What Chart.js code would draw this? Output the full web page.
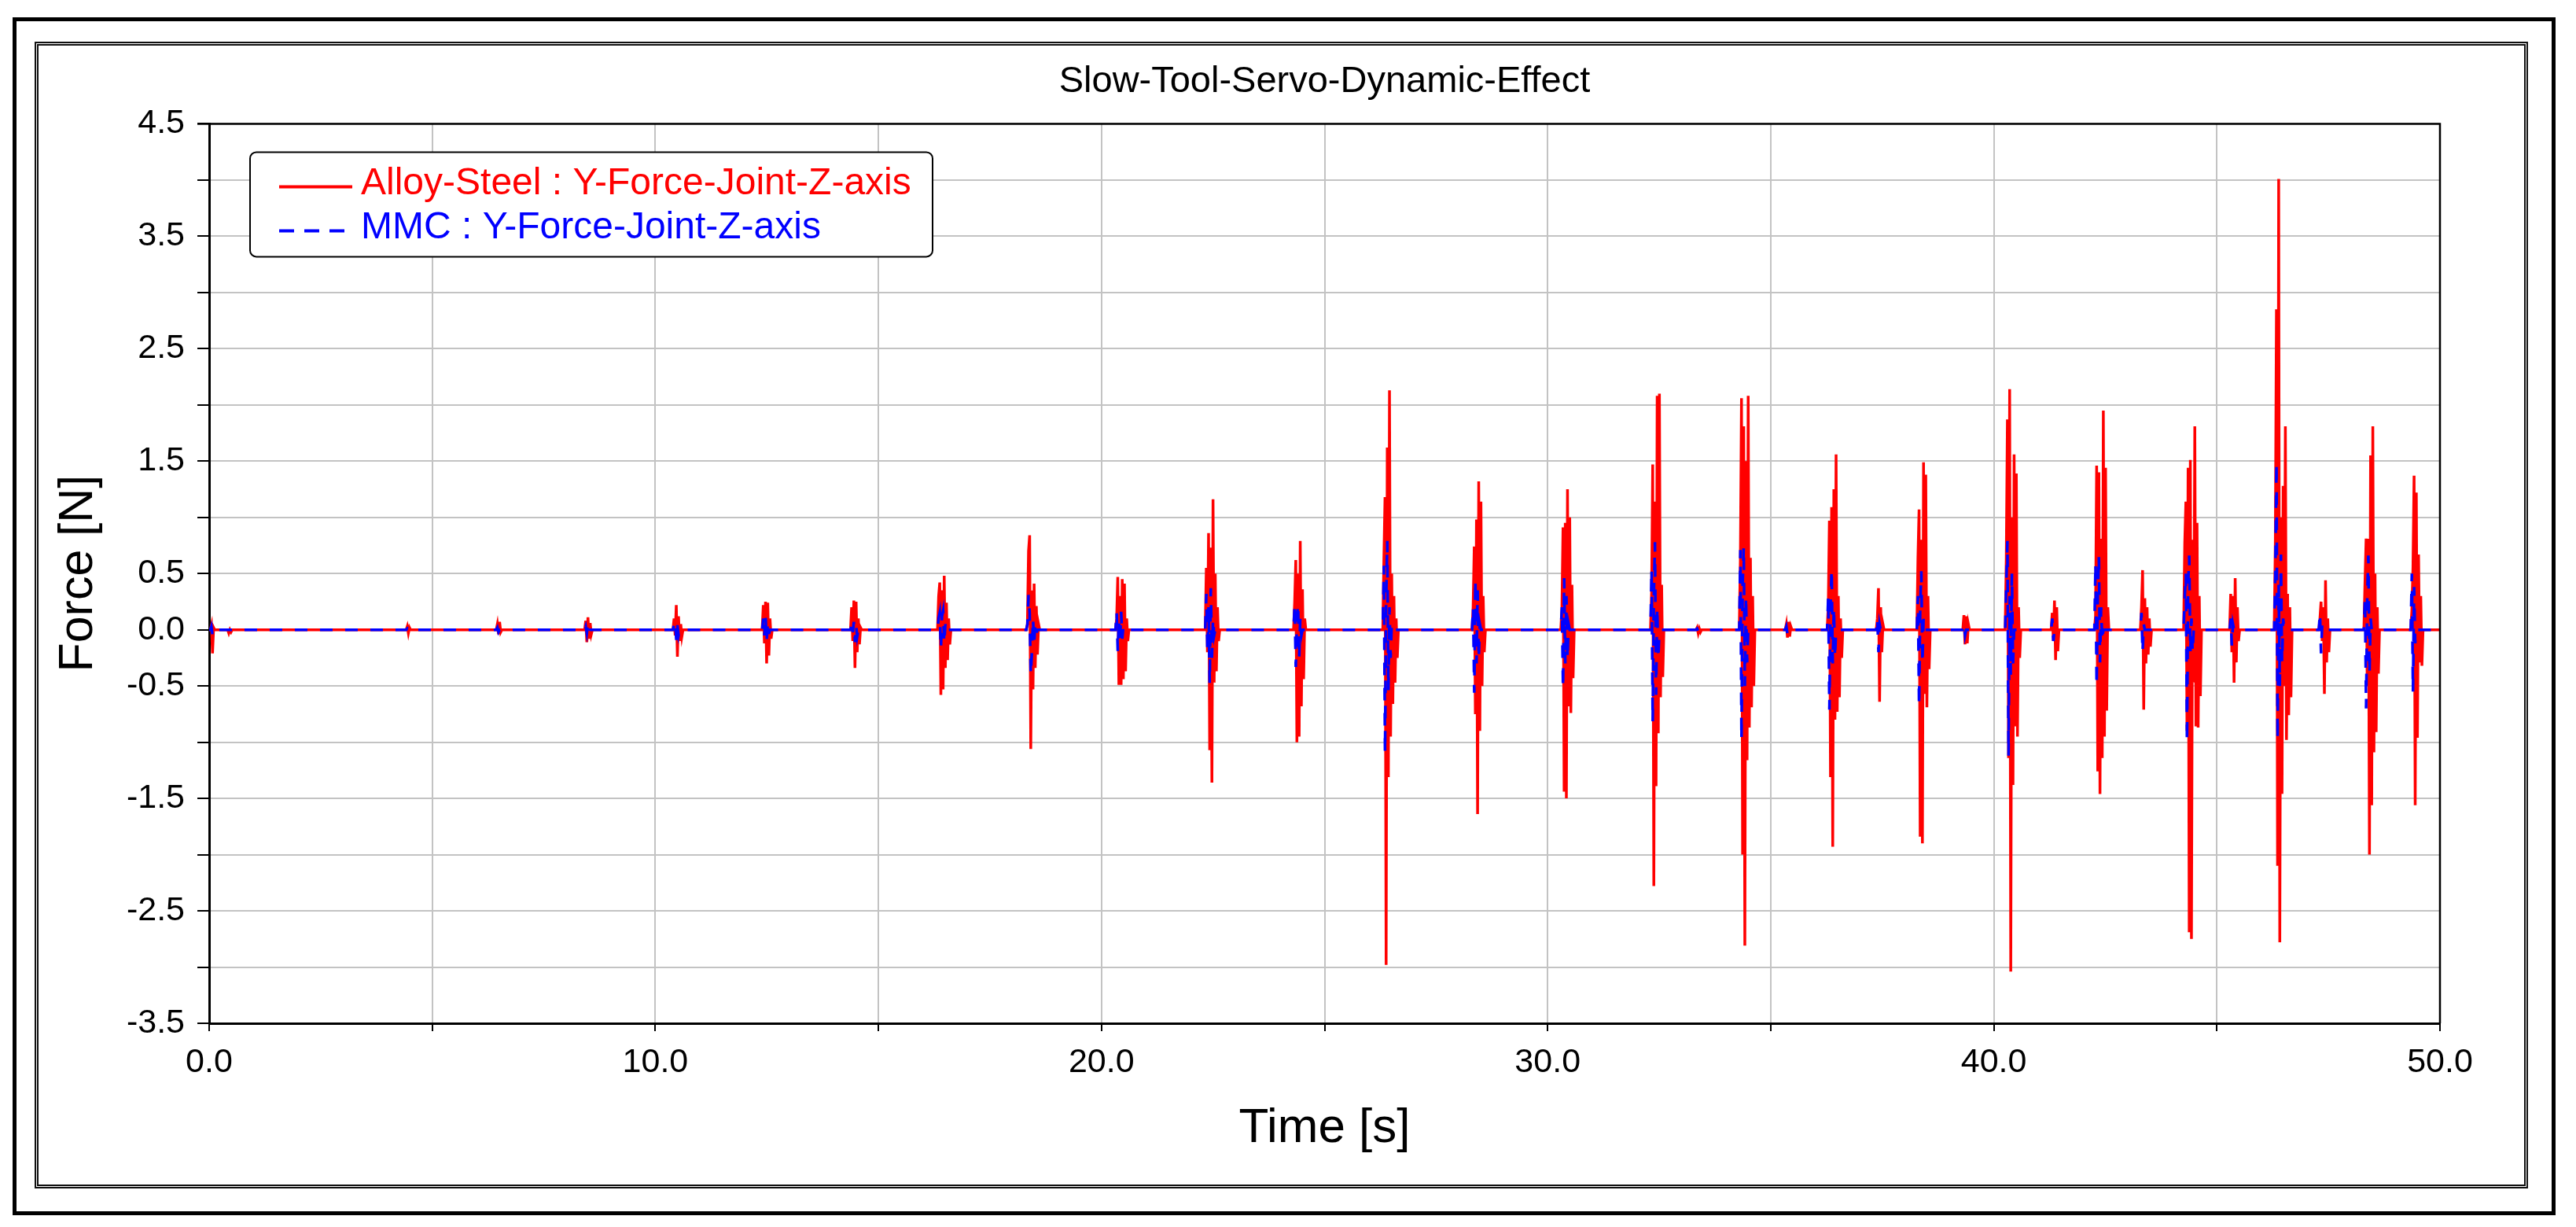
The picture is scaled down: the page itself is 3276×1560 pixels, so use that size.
<!DOCTYPE html>
<html lang="en">
<head>
    <meta charset="UTF-8">
    <title>Slow-Tool-Servo-Dynamic-Effect</title>
    <script src="https://cdn.jsdelivr.net/npm/chart.js@4.4.0/dist/chart.umd.min.js"></script>
    <style>
        html, body {
            margin: 0;
            padding: 0;
            background: #fff;
        }

        .page {
            position: relative;
            width: 3276px;
            height: 1560px;
            overflow: hidden;
        }

        /* outer thick frame and inner double frame */
        .outer-frame {
            position: absolute;
            left: 16px;
            top: 22px;
            width: 3224px;
            height: 1513px;
            border: 5px solid #000;
        }

        .inner-frame {
            position: absolute;
            left: 44px;
            top: 53px;
            width: 3161px;
            height: 1448px;
            border: 5px double #111;
        }

        #chart {
            position: absolute;
            left: 0;
            top: 0;
        }
    </style>
</head>
<body>
<div class="page">
    <div class="outer-frame"></div>
    <div class="inner-frame"></div>
    <canvas id="chart" width="3276" height="1560"></canvas>
</div>

<script>
    // time of the first sample of each burst [s]
    const burstStart = [0.05, 0.44, 4.44, 6.46, 8.44, 10.42, 12.42, 14.40, 16.35, 18.34,
        20.34, 22.35, 24.33, 26.33, 28.33, 30.32, 32.33, 33.35, 34.32, 35.35,
        36.29, 37.39, 38.30, 39.33, 40.28, 41.31, 42.28, 43.31, 44.28, 45.31,
        46.31, 47.31, 48.32, 49.37];

    // spacing of the samples inside a burst [s]
    const sampleStep = 0.025;

    // Alloy-Steel force samples per burst [N]
    const steelForce = [
        [0.04, -0.21, 0.02, 0],
        [-0.03, 0.0, -0.02, 0],
        [0.03, -0.03, 0.02, 0],
        [0.05, -0.04, 0.07, -0.02, 0],
        [0.08, -0.11, 0.11, -0.08, 0.06, -0.04, 0],
        [0.10, -0.05, 0.22, -0.24, 0.12, -0.10, 0.05, -0.06, 0],
        [0.22, -0.12, 0.25, -0.30, 0.24, -0.23, 0.10, -0.08, 0],
        [0.20, -0.10, 0.26, -0.34, 0.25, -0.20, 0.10, -0.13, 0.02, 0],
        [0.30, 0.42, -0.58, 0.35, -0.53, 0.48, -0.34, 0.24, -0.27, 0.10, -0.13, 0],
        [0.05, 0.70, 0.84, -1.06, 0.35, -0.53, 0.41, -0.34, 0.21, -0.22, 0.05, 0],
        [0.10, 0.47, -0.49, 0.30, -0.49, 0.45, -0.44, 0.41, -0.37, 0.10, -0.10, 0],
        [0.55, -0.20, 0.86, -1.07, 0.73, -1.36, 1.16, -0.47, 0.50, -0.37, 0.20, -0.10, 0],
        [0.25, 0.62, -1.00, 0.50, -0.95, 0.79, -0.68, 0.36, -0.44, 0.10, 0],
        [0.64, 1.18, -2.98, 1.62, -1.31, 2.13, -0.95, 0.50, -0.66, 0.30, -0.47, 0.10, -0.25, 0],
        [0.20, 0.74, -0.75, 0.98, -1.64, 1.32, -0.90, 1.14, -0.50, 0.30, -0.20, 0],
        [0.19, 0.91, -1.44, 0.95, -1.50, 1.25, -0.68, 1.00, -0.74, 0.40, -0.43, 0],
        [0.33, 1.47, -2.28, 1.14, -1.39, 2.08, -0.92, 2.10, -0.60, 0.40, -0.42, 0],
        [0.02, -0.03, 0.01, -0.02, 0],
        [0.64, 2.06, -2.00, 1.81, -2.81, 1.50, -1.16, 2.08, -0.87, 0.64, -0.69, 0.30, -0.50, 0],
        [0.05, -0.07, 0.07, -0.06, 0.03, 0],
        [0.21, 0.97, -1.31, 1.09, -1.93, 1.25, -0.80, 1.56, -0.73, 0.30, -0.60, 0.10, -0.25, 0],
        [0.10, 0.37, -0.64, 0.20, -0.20, 0.05, 0],
        [0.64, 1.07, -1.84, 0.80, -1.90, 1.49, -0.57, 1.38, -0.69, 0.30, -0.35, 0],
        [0.13, -0.13, 0.12, -0.12, 0.05, 0],
        [0.63, 1.87, -1.14, 2.14, -3.04, 1.00, -1.38, 1.56, -0.86, 1.39, -0.95, 0.20, -0.25, 0],
        [0.15, -0.10, 0.26, -0.27, 0.20, -0.19, 0],
        [0.12, 1.46, -1.26, 1.40, -1.46, 0.81, -1.14, 1.95, -0.95, 1.44, -0.72, 0.20, 0],
        [0.20, 0.53, -0.71, 0.28, -0.30, 0.20, -0.22, 0.10, -0.15, 0],
        [0.77, 1.14, -0.90, 1.44, -2.69, 1.51, -2.75, 0.80, -0.47, 1.81, -0.86, 0.95, -0.87, 0.30, -0.59, 0],
        [0.32, -0.20, 0.30, -0.47, 0.46, -0.29, 0.20, -0.10, 0],
        [0.76, 2.85, -2.10, 4.01, -2.78, 1.00, -1.46, 1.28, -0.50, 1.81, -0.98, 0.32, -0.76, 0.20, -0.60, 0],
        [0.10, 0.25, -0.10, 0.20, -0.57, 0.44, -0.29, 0.10, -0.20, 0],
        [0.43, 0.81, -0.50, 0.81, -2.00, 1.55, -1.56, 1.81, -1.09, 0.50, -0.91, 0.20, -0.39, 0],
        [0.17, 0.55, 1.37, -1.56, 1.22, -0.96, 0.67, -0.29, 0.30, -0.32, 0]
    ];

    // MMC force samples per burst [N]
    const mmcForce = [
        [0.03, -0.05, 0],
        [0.0, 0],
        [0.01, -0.01, 0],
        [0.02, -0.02, 0],
        [0.03, -0.03, 0.05, -0.02, 0],
        [0.05, 0.08, -0.09, 0.04, -0.05, 0],
        [0.10, -0.05, 0.13, -0.10, 0.05, -0.04, 0],
        [0.05, -0.03, 0.07, -0.11, 0.04, -0.06, 0],
        [0.10, 0.15, -0.17, 0.12, 0.17, -0.12, 0.05, -0.03, 0],
        [0.05, 0.31, 0.15, -0.40, -0.20, 0.10, -0.12, 0.05, -0.03, 0],
        [0.16, -0.19, 0.10, -0.12, 0.16, -0.08, 0.03, 0],
        [0.32, -0.20, 0.20, -0.48, 0.37, -0.25, 0.10, -0.05, 0],
        [0.23, -0.33, 0.10, 0.23, -0.26, 0.10, -0.05, 0],
        [0.57, -1.10, 0.24, 0.79, -0.54, 0.20, -0.25, 0.05, 0],
        [0.20, -0.56, 0.45, -0.30, 0.35, -0.26, 0.05, 0],
        [0.20, -0.52, 0.46, -0.30, 0.30, -0.26, 0.05, 0],
        [0.54, -0.82, 0.30, 0.78, -0.58, 0.20, -0.26, 0],
        [0.01, -0.01, 0],
        [0.71, -0.98, 0.40, 0.74, -0.50, 0.30, -0.29, 0],
        [0.03, -0.04, 0],
        [0.30, -0.71, 0.20, 0.54, -0.30, 0.20, -0.25, 0],
        [0.10, -0.20, 0.05, 0],
        [0.30, -0.68, 0.20, 0.52, -0.30, 0.10, 0],
        [0.05, -0.05, 0],
        [0.40, 0.79, -1.12, 0.30, -0.40, 0.50, -0.30, 0],
        [0.10, -0.10, 0],
        [0.59, -0.50, 0.30, 0.66, -0.29, 0.20, -0.10, 0],
        [0.15, -0.20, 0.05, 0],
        [0.30, 0.50, -1.00, 0.40, 0.66, -0.20, 0.10, -0.20, 0],
        [0.10, -0.14, 0.05, 0],
        [0.50, 1.49, -0.98, 0.40, -0.50, 0.67, -0.29, 0.10, 0],
        [0.15, -0.21, 0.05, 0],
        [0.29, -0.70, 0.30, 0.66, -0.39, 0.10, 0],
        [0.50, -0.55, 0.38, -0.12, 0]
    ];

    const yTickLabels = [4.5, 3.5, 2.5, 1.5, 0.5, 0.0, -0.5, -1.5, -2.5, -3.5];
    const xTickLabels = [0, 10, 20, 30, 40, 50];

    const fontFamily = "'Liberation Sans', Arial, sans-serif";

    // flat zero line between bursts, burst samples in between
    function buildPoints(bursts) {
        const pts = [{x: 0, y: 0}];
        burstStart.forEach((t0, i) => {
            pts.push({x: t0 - sampleStep, y: 0});
            bursts[i].forEach((f, k) => pts.push({x: t0 + k * sampleStep, y: f}));
        });
        pts.push({x: 50, y: 0});
        return pts;
    }

    // black top/right edge of the plot box and the boxed legend
    const framePlugin = {
        id: 'frameAndLegend',
        afterDraw(chart) {
            const c = chart.ctx;
            const {left, top, right, bottom} = chart.chartArea;
            c.save();
            c.strokeStyle = '#000';
            c.lineWidth = 2.5;
            c.beginPath();
            c.moveTo(left - 15, top);
            c.lineTo(right, top);
            c.lineTo(right, bottom);
            c.stroke();

            // legend box
            const bx = left + 52, by = top + 36, bw = 868, bh = 133;
            c.fillStyle = '#fff';
            c.beginPath();
            c.roundRect(bx, by, bw, bh, 8);
            c.fill();
            c.lineWidth = 2;
            c.strokeStyle = '#000';
            c.stroke();

            const rows = [chart.data.datasets[1], chart.data.datasets[0]];
            c.font = '48px ' + fontFamily;
            c.textBaseline = 'alphabetic';
            rows.forEach((ds, i) => {
                const ly = by + 44 + i * 56;
                c.strokeStyle = ds.borderColor;
                c.lineWidth = 4;
                c.setLineDash(ds.borderDash ? [19, 13] : []);
                c.beginPath();
                c.moveTo(bx + 37, ly);
                c.lineTo(bx + 130, ly);
                c.stroke();
                c.setLineDash([]);
                c.fillStyle = ds.borderColor;
                c.fillText(ds.label, bx + 141, ly + 10);
            });
            c.restore();
        }
    };

    new Chart(document.getElementById('chart'), {
        type: 'line',
        data: {
            datasets: [
                {
                    label: 'MMC : Y-Force-Joint-Z-axis',
                    data: buildPoints(mmcForce),
                    borderColor: '#0000ff',
                    borderWidth: 3.5,
                    borderDash: [16, 16],
                    pointRadius: 0,
                    tension: 0,
                    order: 0
                },
                {
                    label: 'Alloy-Steel : Y-Force-Joint-Z-axis',
                    data: buildPoints(steelForce),
                    borderColor: '#ff0000',
                    borderWidth: 3.5,
                    pointRadius: 0,
                    tension: 0,
                    order: 1
                }
            ]
        },
        options: {
            responsive: false,
            devicePixelRatio: 1,
            animation: false,
            layout: {padding: {left: 0, right: 173, top: 0, bottom: 0}},
            plugins: {
                legend: {display: false},
                tooltip: {enabled: false},
                title: {
                    display: true,
                    text: 'Slow-Tool-Servo-Dynamic-Effect',
                    color: '#000',
                    fullSize: false,
                    font: {family: fontFamily, size: 47, weight: 'normal'},
                    padding: {top: 76, bottom: 25}
                }
            },
            scales: {
                x: {
                    type: 'linear',
                    min: 0,
                    max: 50,
                    afterFit: s => { s.height = 259; },
                    border: {color: '#000', width: 3},
                    grid: {color: '#c3c3c3', lineWidth: 2, tickLength: 10, tickColor: '#000', tickWidth: 2},
                    ticks: {
                        stepSize: 5,
                        autoSkip: false,
                        maxRotation: 0,
                        padding: 14,
                        color: '#000',
                        font: {family: fontFamily, size: 43},
                        callback: v => xTickLabels.includes(v) ? v.toFixed(1) : ''
                    },
                    title: {
                        display: true,
                        text: 'Time [s]',
                        color: '#000',
                        font: {family: fontFamily, size: 62},
                        padding: {top: 0, bottom: 88}
                    }
                },
                y: {
                    min: -3.5,
                    max: 4.5,
                    afterFit: s => { s.width = 266; },
                    border: {color: '#000', width: 3},
                    grid: {color: '#c3c3c3', lineWidth: 2, tickLength: 15, tickColor: '#000', tickWidth: 2},
                    ticks: {
                        stepSize: 0.5,
                        autoSkip: false,
                        padding: 16,
                        color: '#000',
                        font: {family: fontFamily, size: 43},
                        callback: v => yTickLabels.includes(v) ? v.toFixed(1) : ''
                    },
                    title: {
                        display: true,
                        text: 'Force [N]',
                        color: '#000',
                        font: {family: fontFamily, size: 61},
                        padding: {top: 64, bottom: 0}
                    }
                }
            }
        },
        plugins: [framePlugin]
    });
</script>
</body>
</html>
